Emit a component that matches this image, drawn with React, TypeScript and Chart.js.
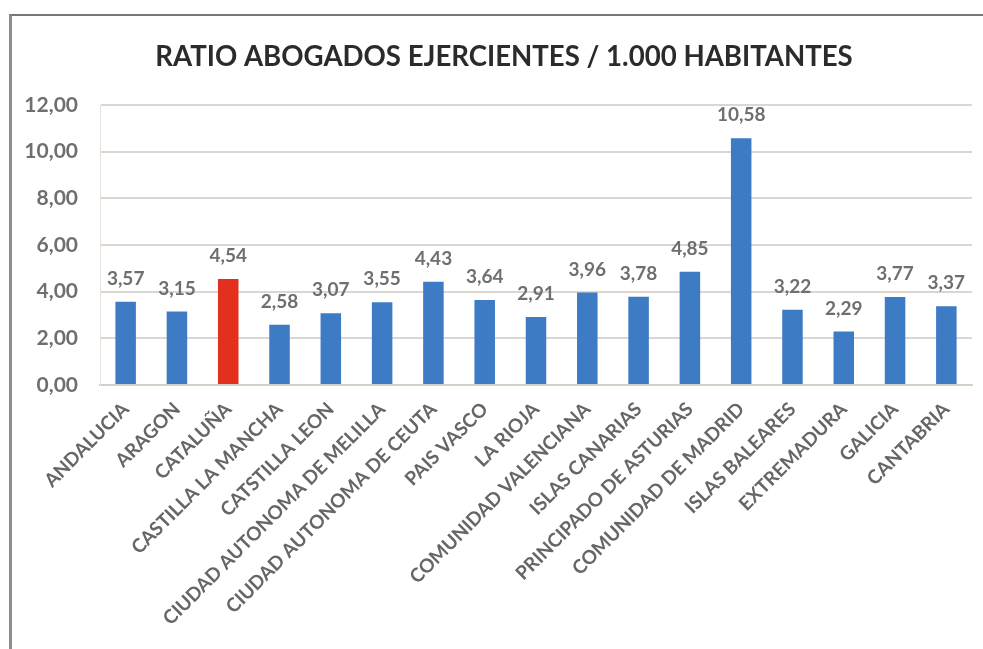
import React, { useEffect, useRef } from "react";
import { Chart, registerables } from "chart.js";

Chart.register(...registerables);

const TITLE = "RATIO ABOGADOS EJERCIENTES / 1.000 HABITANTES";

const regions = [
  "ANDALUCIA",
  "ARAGON",
  "CATALUÑA",
  "CASTILLA LA MANCHA",
  "CATSTILLA LEON",
  "CIUDAD AUTONOMA DE MELILLA",
  "CIUDAD AUTONOMA DE CEUTA",
  "PAIS VASCO",
  "LA RIOJA",
  "COMUNIDAD VALENCIANA",
  "ISLAS CANARIAS",
  "PRINCIPADO DE ASTURIAS",
  "COMUNIDAD DE MADRID",
  "ISLAS BALEARES",
  "EXTREMADURA",
  "GALICIA",
  "CANTABRIA",
];

const ratios = [3.57, 3.15, 4.54, 2.58, 3.07, 3.55, 4.43, 3.64, 2.91, 3.96, 3.78, 4.85, 10.58, 3.22, 2.29, 3.77, 3.37];

const highlighted = ["CATALUÑA"];

const yTicks = [0, 2, 4, 6, 8, 10, 12];

const BLUE = "#3d7cc5";
const RED = "#e3301e";
const FONT = "Lato, 'Open Sans', sans-serif";

const fmt = (v: number) => v.toFixed(2).replace(".", ",");

const labelPlugin = {
  id: "barValueLabels",
  afterDatasetsDraw(chart: any) {
    const ctx = chart.ctx;
    const meta = chart.getDatasetMeta(0);
    ctx.save();
    ctx.font = `bold 19px ${FONT}`;
    ctx.fillStyle = "#6f6f6f";
    ctx.textAlign = "center";
    ctx.textBaseline = "middle";
    meta.data.forEach((bar: any, i: number) => {
      ctx.fillText(fmt(ratios[i]), bar.x, bar.y - 23);
    });
    ctx.restore();
  },
};

const titlePlugin = {
  id: "customTitle",
  afterDraw(chart: any) {
    const ctx = chart.ctx;
    ctx.save();
    ctx.font = `bold 27.6px ${FONT}`;
    ctx.fillStyle = "#2b2b2b";
    ctx.textAlign = "center";
    ctx.textBaseline = "middle";
    ctx.fillText(TITLE, 504, 57);
    ctx.restore();
  },
};

export default function App() {
  const ref = useRef<HTMLCanvasElement | null>(null);

  useEffect(() => {
    if (!ref.current) return;
    const chart = new Chart(ref.current, {
      type: "bar",
      data: {
        labels: regions,
        datasets: [
          {
            data: ratios,
            backgroundColor: regions.map((r) => (highlighted.includes(r) ? RED : BLUE)),
            barPercentage: 0.4,
            categoryPercentage: 1,
          },
        ],
      },
      options: {
        responsive: false,
        animation: false,
        devicePixelRatio: 1,
        layout: { padding: { left: 10, right: 11, top: 105, bottom: 0 } },
        plugins: {
          legend: { display: false },
          title: { display: false },
          tooltip: { enabled: false },
        },
        scales: {
          x: {
            grid: { display: false, drawTicks: false },
            border: { display: true, color: "#d6cfc8", width: 2 },
            ticks: {
              autoSkip: false,
              maxRotation: 45,
              minRotation: 45,
              padding: 13,
              color: "#666666",
              font: { family: FONT, size: 19, weight: "bold" },
            },
            afterFit: (scale: any) => {
              scale.height = 264;
            },
          },
          y: {
            min: 0,
            max: 12,
            afterBuildTicks: (scale: any) => {
              scale.ticks = yTicks.map((v) => ({ value: v }));
            },
            grid: { color: "#ddd6cf", lineWidth: 2, drawTicks: false },
            border: { display: true, color: "#e6e1dc", width: 1 },
            ticks: {
              padding: 22,
              color: "#6f6f6f",
              font: { family: FONT, size: 21, weight: "bold" },
              callback: (v: any) => fmt(Number(v)),
            },
            afterFit: (scale: any) => {
              scale.width = 90;
            },
          },
        },
      },
      plugins: [labelPlugin, titlePlugin],
    });
    return () => chart.destroy();
  }, []);

  return (
    <div style={{ position: "fixed", left: 0, top: 0, width: 983, height: 649, background: "#ffffff", overflow: "hidden" }}>
      <div
        style={{
          position: "absolute",
          left: 9,
          top: 14,
          right: 0,
          bottom: 0,
          borderLeft: "3px solid #8e8e8e",
          borderTop: "2px solid #777777",
        }}
      />
      <canvas ref={ref} width={983} height={649} style={{ position: "absolute", left: 0, top: 0, width: 983, height: 649 }} />
    </div>
  );
}
